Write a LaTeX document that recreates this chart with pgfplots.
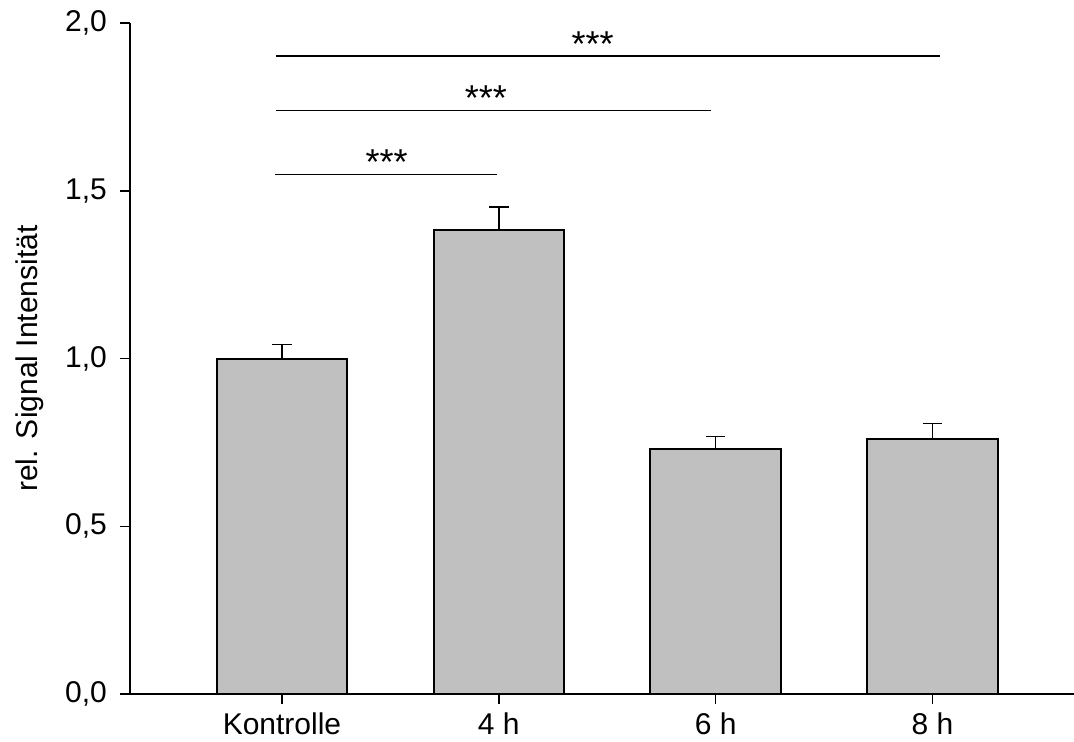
\documentclass[border=0pt]{standalone}
\usepackage{pgfplots}
\pgfplotsset{compat=1.18}
\usepackage{fontspec}
\setmainfont{Liberation Sans}
\definecolor{barfill}{RGB}{192,192,192}
\newcommand{\chartfont}{\fontsize{15pt}{18pt}\selectfont}
\newcommand{\starfont}{\fontsize{18pt}{21pt}\selectfont}
\begin{document}
\begin{tikzpicture}
\begin{axis}[
  scale only axis, width=472pt, height=335.35pt,
  xmin=-0.701, xmax=3.653, ymin=0, ymax=2,
  axis x line*=bottom, axis y line*=left,
  axis line style={line width=1pt, -},
  xtick={0,1,2,3}, xticklabels={Kontrolle,4 h,6 h,8 h},
  ytick={0,0.5,1,1.5,2},
  minor tick num=0,
  tick align=outside, major tick length=5pt,
  tick style={black, line width=0.8pt},
  yticklabel style={xshift=-3pt, /pgf/number format/.cd, fixed, fixed zerofill, precision=1, use comma, assume math mode=true},
  xticklabel style={inner sep=0pt, yshift=-4pt},
  every tick label/.append style={font=\chartfont},
  ylabel={rel. Signal Intensität},
  ylabel style={font=\chartfont, at={(rel axis cs:0,0.5)}, anchor=center, yshift=50pt},
  clip=false,
]
\addplot[ybar, bar width=0.602, fill=barfill, draw=black, line width=1pt,
  error bars/.cd, y dir=plus, y explicit,
  error bar style={line width=0.7pt, black},
  error mark options={rotate=90, mark size=4.85pt, line width=0.7pt, black}]
  table[x=x, y=y, y error=e] {
x y e
0 1.000 0.042
1 1.385 0.067
2 0.731 0.036
3 0.760 0.047
};
\addplot[black, line width=0.7pt, forget plot] coordinates {(-0.032,1.549) (0.99,1.549)};
\addplot[black, line width=0.7pt, forget plot] coordinates {(-0.028,1.740) (1.979,1.740)};
\addplot[black, line width=0.7pt, forget plot] coordinates {(-0.028,1.902) (3.035,1.902)};
\node[anchor=base, font=\starfont, inner sep=0pt] at (axis cs:0.483,1.550) {***};
\node[anchor=base, font=\starfont, inner sep=0pt] at (axis cs:0.940,1.740) {***};
\node[anchor=base, font=\starfont, inner sep=0pt] at (axis cs:1.433,1.901) {***};
\coordinate (ll) at (rel axis cs:0,0);
\coordinate (ur) at (rel axis cs:1,1);
\end{axis}
\pgfresetboundingbox
\path[use as bounding box] ([shift={(-65pt,-24pt)}]ll) rectangle ([shift={(0pt,11.65pt)}]ur);
\end{tikzpicture}
\end{document}
